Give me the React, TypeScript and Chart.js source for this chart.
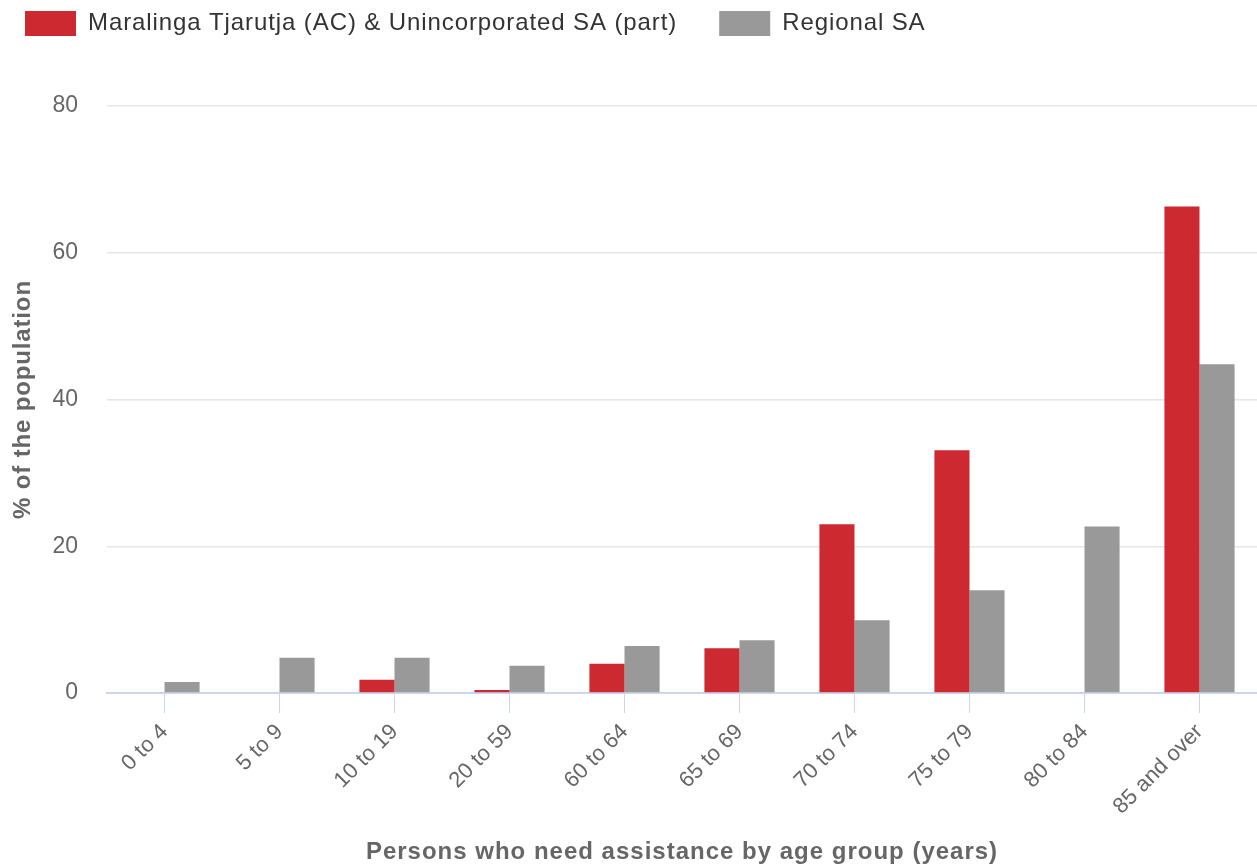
import React, { useEffect, useRef } from "react";
import { Chart, registerables } from "chart.js";

Chart.register(...registerables);

const categories = [
  "0 to 4",
  "5 to 9",
  "10 to 19",
  "20 to 59",
  "60 to 64",
  "65 to 69",
  "70 to 74",
  "75 to 79",
  "80 to 84",
  "85 and over",
];
const maralingaValues = [0, 0, 1.8, 0.4, 4.0, 6.1, 23.0, 33.1, 0, 66.3];
const regionalValues = [1.5, 4.8, 4.8, 3.7, 6.4, 7.2, 9.9, 14.0, 22.7, 44.8];
const seriesNames = ["Maralinga Tjarutja (AC) & Unincorporated SA (part)", "Regional SA"];
const yAxisMin = 0;
const yAxisMax = 80;
const yAxisStep = 20;
const xAxisTitle = "Persons who need assistance by age group (years)";
const yAxisTitle = "% of the population";

const FONT = '"Liberation Sans", Arial, Helvetica, sans-serif';

function wrapSpacing(obj: any, method: string, spacing: string) {
  const flag = "_ls_" + method;
  if (!obj || obj[flag]) return;
  const orig = obj[method];
  if (typeof orig !== "function") return;
  obj[method] = function (...args: any[]) {
    const ctx: any = this.ctx;
    const prev = ctx ? ctx.letterSpacing : undefined;
    if (ctx) ctx.letterSpacing = spacing;
    try {
      return orig.apply(this, args);
    } finally {
      if (ctx) ctx.letterSpacing = prev ?? "0px";
    }
  };
  obj[flag] = true;
}

const layoutPlugin = {
  id: "layoutTweak",
  beforeLayout(chart: any) {
    const lg = chart.legend;
    if (lg && !lg._patched) {
      const orig = lg.fit;
      lg.fit = function () {
        orig.call(this);
        this.height = 106;
      };
      lg._patched = true;
      wrapSpacing(lg, "fit", "0.9px");
      wrapSpacing(lg, "draw", "0.9px");
    }
  },
  afterLayout(chart: any) {
    const lg = chart.legend;
    if (lg) {
      lg.left = lg.left - 17;
      lg.top = lg.top - 31;
    }
    wrapSpacing(chart.scales.x, "drawTitle", "1px");
    wrapSpacing(chart.scales.y, "drawTitle", "0.85px");
  },
};

export default function App() {
  const canvasRef = useRef<HTMLCanvasElement | null>(null);

  useEffect(() => {
    if (!canvasRef.current) return;
    Chart.defaults.font.family = FONT;
    const chart = new Chart(canvasRef.current, {
      type: "bar",
      data: {
        labels: categories,
        datasets: [
          {
            label: seriesNames[0],
            data: maralingaValues,
            backgroundColor: "#CC2A30",
            borderWidth: 0,
            barPercentage: 1,
            categoryPercentage: 0.61,
          },
          {
            label: seriesNames[1],
            data: regionalValues,
            backgroundColor: "#999999",
            borderWidth: 0,
            barPercentage: 1,
            categoryPercentage: 0.61,
          },
        ],
      },
      options: {
        responsive: false,
        animation: false,
        maintainAspectRatio: false,
        layout: { padding: 0 },
        plugins: {
          tooltip: { enabled: false },
          legend: {
            position: "top",
            align: "start",
            labels: {
              boxWidth: 51,
              boxHeight: 25,
              padding: 42,
              color: "#333333",
              font: { size: 24, family: FONT },
            },
          },
        },
        scales: {
          x: {
            grid: {
              display: true,
              drawOnChartArea: false,
              drawTicks: true,
              tickLength: 20,
              color: "#ccd6eb",
              offset: false,
              lineWidth: 1,
            },
            border: { display: true, color: "#ccd6eb", width: 2 },
            ticks: {
              autoSkip: false,
              maxRotation: 45,
              minRotation: 45,
              color: "#666666",
              padding: 6,
              font: { size: 22, family: FONT },
            },
            title: {
              display: true,
              text: xAxisTitle,
              color: "#666666",
              padding: { top: 0, bottom: -2 },
              font: { size: 24, weight: "bold", family: FONT },
            },
            afterFit(scale: any) {
              scale.height = 172;
            },
          },
          y: {
            min: yAxisMin,
            max: yAxisMax,
            ticks: {
              stepSize: yAxisStep,
              color: "#666666",
              padding: 29,
              font: { size: 23, family: FONT },
            },
            grid: {
              color: "#e6e6e6",
              lineWidth: 1.5,
              drawTicks: false,
            },
            border: { display: false },
            title: {
              display: true,
              text: yAxisTitle,
              color: "#666666",
              padding: { top: 9, bottom: 0 },
              font: { size: 24, weight: "bold", family: FONT },
            },
            afterFit(scale: any) {
              scale.width = 107;
            },
          },
        },
      },
      plugins: [layoutPlugin],
    });
    return () => chart.destroy();
  }, []);

  return (
    <div style={{ position: "fixed", left: 0, top: 0, width: 1257, height: 865, background: "#ffffff" }}>
      <canvas ref={canvasRef} width={1257} height={865} style={{ display: "block" }} />
    </div>
  );
}
